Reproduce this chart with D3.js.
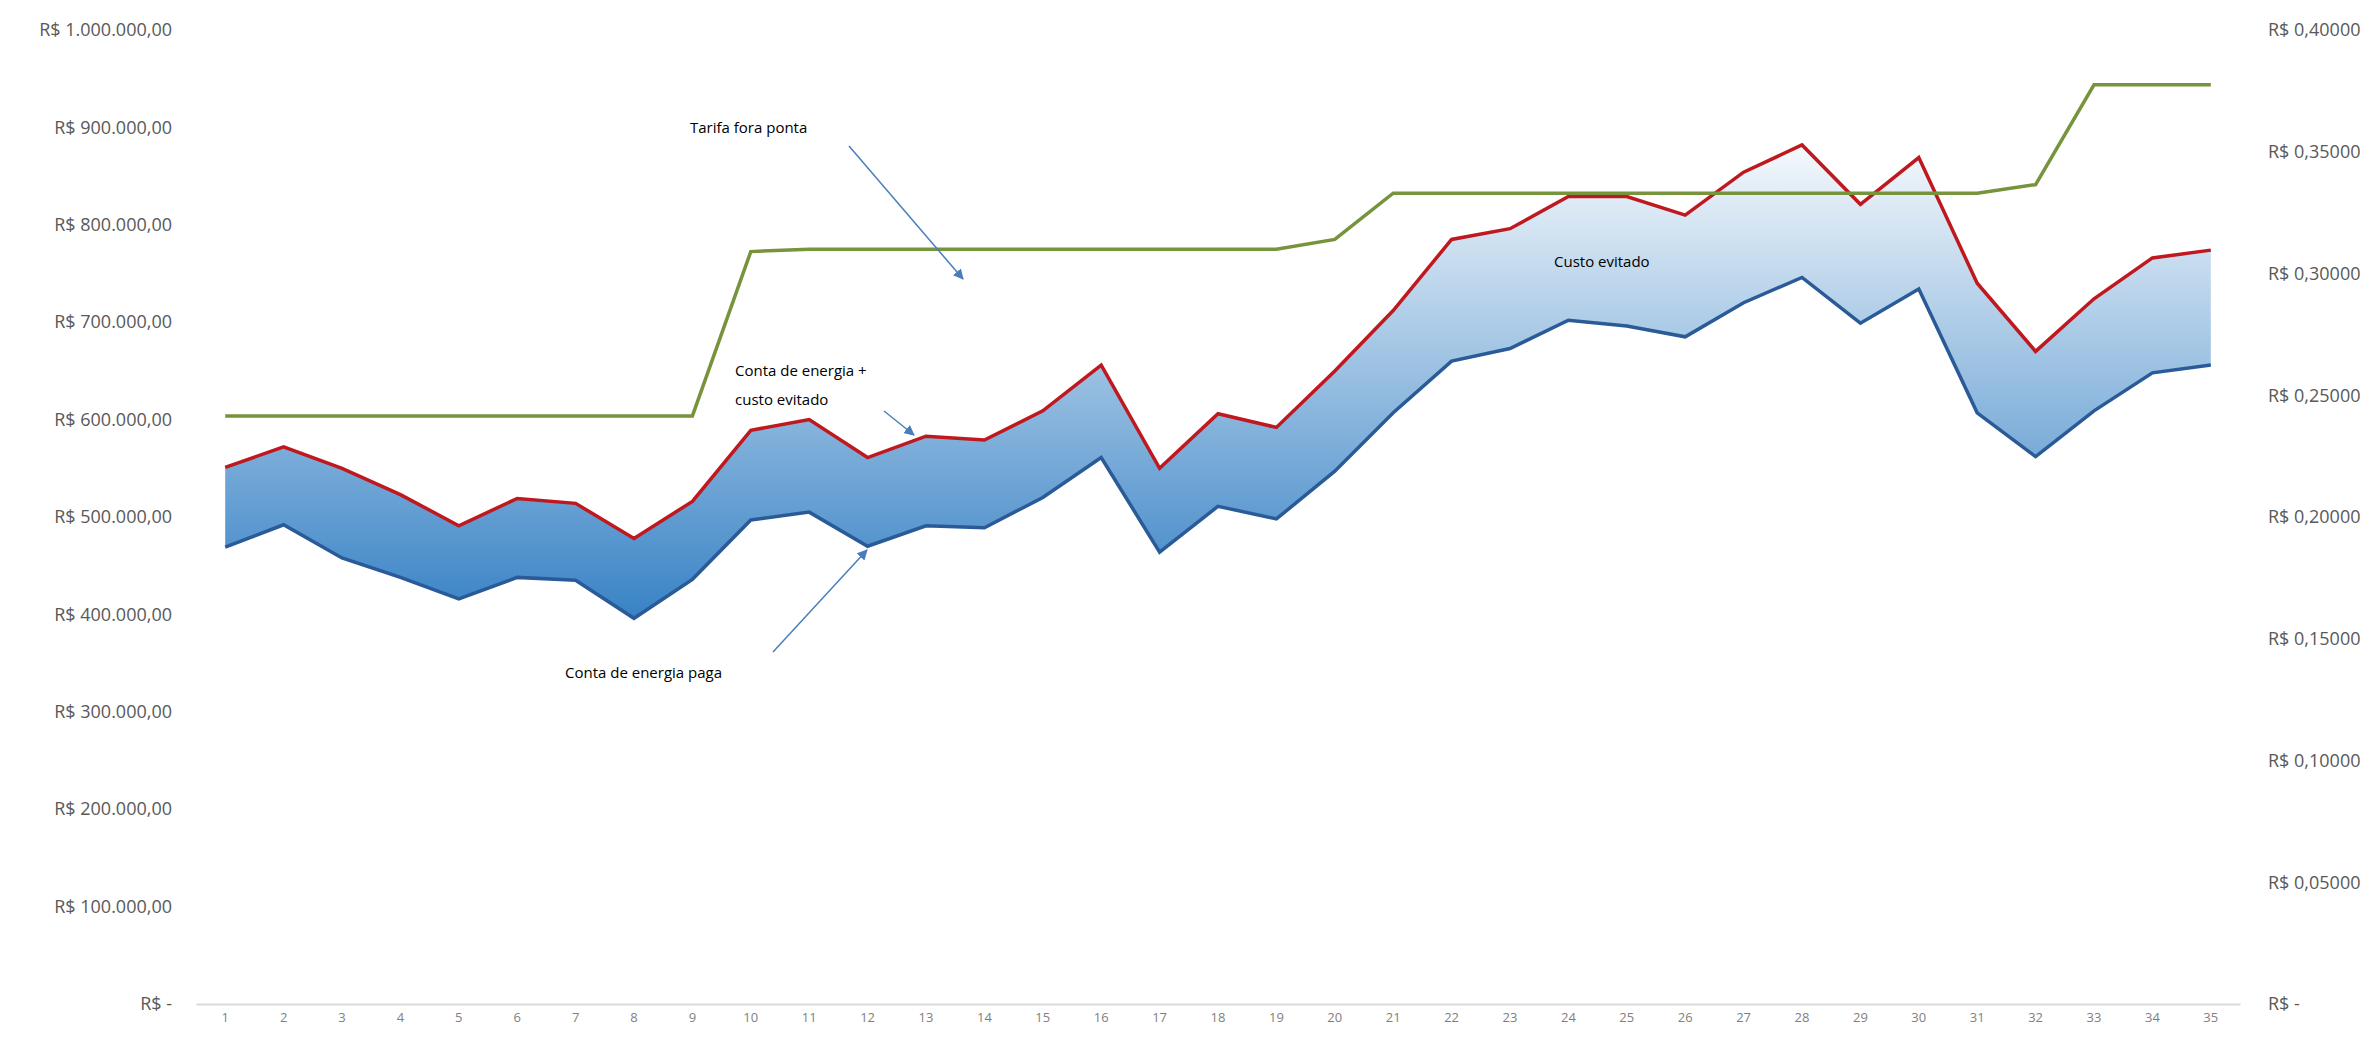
<!DOCTYPE html>
<html>
<head>
<meta charset="utf-8">
<script src="https://cdn.jsdelivr.net/npm/d3@7"></script>
<style>
  body { margin: 0; background: #fff; }
  svg { display: block; font-family: "Open Sans", sans-serif; }
</style>
</head>
<body>
<div id="chart"></div>
<script>
const meses = d3.range(1, 36);

// Conta de energia paga (R$)
const contaPaga = [
    469000, 492000, 458000, 438000, 416000, 438000, 435000, 396000, 436000, 497000,
    505000, 470000, 491000, 489000, 520000, 561000, 464000, 511000, 498000, 547000,
    607000, 660000, 673000, 702000, 696000, 685000, 720000, 746000, 699000, 734000,
    607000, 562000, 609000, 648000, 656000
];

// Conta de energia + custo evitado (R$)
const contaMaisEvitado = [
    551000, 572000, 550000, 523000, 491000, 519000, 514000, 478000, 516000, 589000,
    600000, 561000, 583000, 579000, 609000, 656000, 550000, 606000, 592000, 650000,
    712000, 785000, 796000, 829000, 829000, 810000, 854000, 882000, 821000, 869000,
    740000, 670000, 724000, 766000, 774000
];

// Tarifa fora ponta (R$/kWh)
const tarifa = [
    0.2415, 0.2415, 0.2415, 0.2415, 0.2415, 0.2415, 0.2415, 0.2415, 0.2415, 0.3090,
    0.3100, 0.3100, 0.3100, 0.3100, 0.3100, 0.3100, 0.3100, 0.3100, 0.3100, 0.3140,
    0.3330, 0.3330, 0.3330, 0.3330, 0.3330, 0.3330, 0.3330, 0.3330, 0.3330, 0.3330,
    0.3330, 0.3365, 0.3775, 0.3775, 0.3775
];

const ticksEsq = d3.range(0, 1000001, 100000);
const ticksDir = d3.range(0, 9).map(i => i * 0.05);

const width = 2377,
    height = 1038;

const br = d3.formatLocale({ decimal: ",", thousands: ".", grouping: [3], currency: ["R$ ", ""] });
const fmtEsq = v => v === 0 ? "R$ -" : br.format("$,.2f")(v);
const fmtDir = v => v === 0 ? "R$ -" : br.format("$.5f")(v);

const x = d3.scaleBand()
    .domain(meses)
    .range([196, 2240]);
const cx = d => x(d) + x.bandwidth() / 2;

const yEsq = d3.scaleLinear().domain([0, 1000000]).range([1004, 30]);
const yDir = d3.scaleLinear().domain([0, 0.4]).range([1004, 30]);

const svg = d3.select('#chart')
    .append('svg')
    .attr('width', width)
    .attr('height', height);

const defs = svg.append('defs');
const grad = defs.append('linearGradient')
    .attr('id', 'fundo')
    .attr('gradientUnits', 'userSpaceOnUse')
    .attr('x1', 0).attr('x2', 0)
    .attr('y1', 120).attr('y2', 640);
grad.append('stop').attr('offset', '0%').attr('stop-color', '#ffffff');
grad.append('stop').attr('offset', '100%').attr('stop-color', '#2f7dc3');

const marker = defs.append('marker')
    .attr('id', 'seta')
    .attr('viewBox', '0 0 10 10')
    .attr('refX', 9).attr('refY', 5)
    .attr('markerWidth', 7).attr('markerHeight', 7)
    .attr('orient', 'auto');
marker.append('path').attr('d', 'M0,0 L10,5 L0,10 z').attr('fill', '#4a7ebb');

// eixos
const gEsq = svg.append('g')
    .attr('transform', 'translate(196,0)')
    .call(d3.axisLeft(yEsq).tickValues(ticksEsq).tickFormat(fmtEsq).tickSize(0).tickPadding(24));
gEsq.select('.domain').remove();

const gDir = svg.append('g')
    .attr('transform', 'translate(2240,0)')
    .call(d3.axisRight(yDir).tickValues(ticksDir).tickFormat(fmtDir).tickSize(0).tickPadding(28));
gDir.select('.domain').remove();

svg.selectAll('g').selectAll('.tick text')
    .style('font-size', '18px')
    .style('font-family', '"Open Sans", sans-serif')
    .attr('fill', '#595959');

const gX = svg.append('g')
    .attr('transform', 'translate(0,1004)')
    .call(d3.axisBottom(x).tickSize(0).tickPadding(9));
gX.select('.domain').attr('stroke', '#d9d9d9').attr('stroke-width', 2);
gX.selectAll('.tick text')
    .style('font-size', '13px')
    .style('font-family', '"Open Sans", sans-serif')
    .attr('fill', '#7f7f7f');

// area entre as duas contas
const dados = meses.map((m, i) => ({ m, paga: contaPaga[i], total: contaMaisEvitado[i], tarifa: tarifa[i] }));

svg.append('path')
    .datum(dados)
    .attr('fill', 'url(#fundo)')
    .attr('d', d3.area()
        .x(d => cx(d.m))
        .y0(d => yEsq(d.paga))
        .y1(d => yEsq(d.total)));

svg.append('path')
    .datum(dados)
    .attr('fill', 'none')
    .attr('stroke', '#2a5a97')
    .attr('stroke-width', 3.5)
    .attr('d', d3.line().x(d => cx(d.m)).y(d => yEsq(d.paga)));

svg.append('path')
    .datum(dados)
    .attr('fill', 'none')
    .attr('stroke', '#c0181f')
    .attr('stroke-width', 3.5)
    .attr('d', d3.line().x(d => cx(d.m)).y(d => yEsq(d.total)));

svg.append('path')
    .datum(dados)
    .attr('fill', 'none')
    .attr('stroke', '#77933c')
    .attr('stroke-width', 3.5)
    .attr('d', d3.line().x(d => cx(d.m)).y(d => yDir(d.tarifa)));

// anotacoes
const notas = svg.append('g')
    .style('font-family', '"Open Sans", sans-serif')
    .style('font-size', '15px')
    .attr('fill', '#000');

notas.append('text').attr('x', 690).attr('y', 133).text('Tarifa fora ponta');
notas.append('text').attr('x', 735).attr('y', 376).text('Conta de energia +');
notas.append('text').attr('x', 735).attr('y', 405).text('custo evitado');
notas.append('text').attr('x', 565).attr('y', 678).text('Conta de energia paga');
notas.append('text').attr('x', 1554).attr('y', 267).text('Custo evitado');

const setas = [
    [849, 146, 963, 279],
    [884, 411, 914, 435],
    [773, 652, 867, 550]
];
svg.append('g').selectAll('line')
    .data(setas)
    .enter()
    .append('line')
    .attr('x1', d => d[0]).attr('y1', d => d[1])
    .attr('x2', d => d[2]).attr('y2', d => d[3])
    .attr('stroke', '#4a7ebb')
    .attr('stroke-width', 1.5)
    .attr('marker-end', 'url(#seta)');
</script>
</body>
</html>
